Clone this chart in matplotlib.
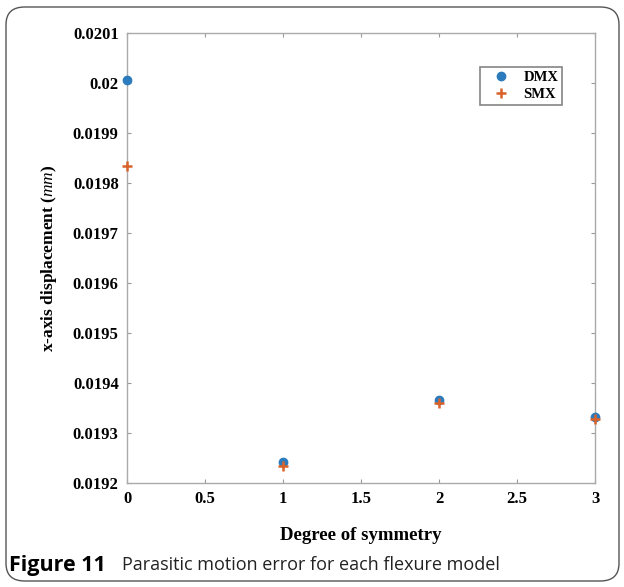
import matplotlib
matplotlib.use("Agg")
import matplotlib.pyplot as plt
from matplotlib.patches import FancyBboxPatch

plt.rcParams["mathtext.fontset"] = "custom"
plt.rcParams["mathtext.it"] = "Liberation Serif:italic"
plt.rcParams["mathtext.rm"] = "Liberation Serif"

degree = [0, 1, 2, 3]
dmx = [0.020006, 0.019242, 0.019366, 0.019332]
smx = [0.019834, 0.019234, 0.019360, 0.019328]
yticks = [0.0192, 0.0193, 0.0194, 0.0195, 0.0196, 0.0197, 0.0198, 0.0199, 0.02, 0.0201]
ytick_labels = ["0.0192", "0.0193", "0.0194", "0.0195", "0.0196", "0.0197", "0.0198", "0.0199", "0.02", "0.0201"]
xticks = [0, 0.5, 1, 1.5, 2, 2.5, 3]
xtick_labels = ["0", "0.5", "1", "1.5", "2", "2.5", "3"]

W, H = 624, 587
fig = plt.figure(figsize=(W/100, H/100), dpi=100)

border = FancyBboxPatch((6/W, 6/H), (619-6)/W, (580-6)/H,
                        boxstyle="round,pad=0,rounding_size=0.03",
                        transform=fig.transFigure, fill=False,
                        edgecolor="#555555", linewidth=1.0)
fig.patches.append(border)

L, R, T, B = 127, 595, 33, 483
ax = fig.add_axes([L/W, 1-B/H, (R-L)/W, (B-T)/H])
serif = "Liberation Serif"
ax.plot(degree, dmx, linestyle="none", marker="o", markersize=6,
        markerfacecolor="#2b7bbd", markeredgecolor="#2b7bbd",
        label="DMX", clip_on=False, zorder=3)
ax.plot(degree, smx, linestyle="none", marker="+", markersize=7.5, markeredgewidth=1.8,
        color="#d9622b", label="SMX", clip_on=False, zorder=4)

ax.set_xlim(0, 3)
ax.set_ylim(0.0192, 0.0201)
ax.set_xticks(xticks)
ax.set_xticklabels(xtick_labels, fontfamily=serif, fontweight="bold", fontsize=12)
ax.set_yticks(yticks)
ax.set_yticklabels(ytick_labels, fontfamily=serif, fontweight="bold", fontsize=12)
ax.tick_params(direction="in", top=True, right=True, length=3, color="#999999",
               width=0.8, pad=6)
for s in ax.spines.values():
    s.set_color("#aaaaaa")
    s.set_linewidth(1.0)

ax.set_xlabel("Degree of symmetry", fontfamily=serif, fontweight="bold", fontsize=13.5, labelpad=14)
ax.set_ylabel("x-axis displacement ($\\mathit{mm}$)", fontfamily=serif, fontweight="bold",
              fontsize=12.5, labelpad=10)

leg = ax.legend(loc="upper right",
                bbox_to_anchor=((562-L)/(R-L), 1-(67-T)/(B-T)),
                prop={"family": serif, "weight": "bold", "size": 10.5},
                frameon=True, fancybox=False, shadow=False, handletextpad=0.3,
                borderpad=0.25, labelspacing=0.3, handlelength=2.4, borderaxespad=0)
leg.get_frame().set_edgecolor("#666666")
leg.get_frame().set_linewidth(1.2)

fig.text(9/W, 1-565/H, "Figure 11", fontfamily="Open Sans", fontweight="bold",
         fontsize=15.5, va="center", ha="left")
fig.text(122/W, 1-565/H, "Parasitic motion error for each flexure model",
         fontfamily="Open Sans", fontsize=13, va="center", ha="left", color="#222222")

fig.savefig("out.png", dpi=100)
